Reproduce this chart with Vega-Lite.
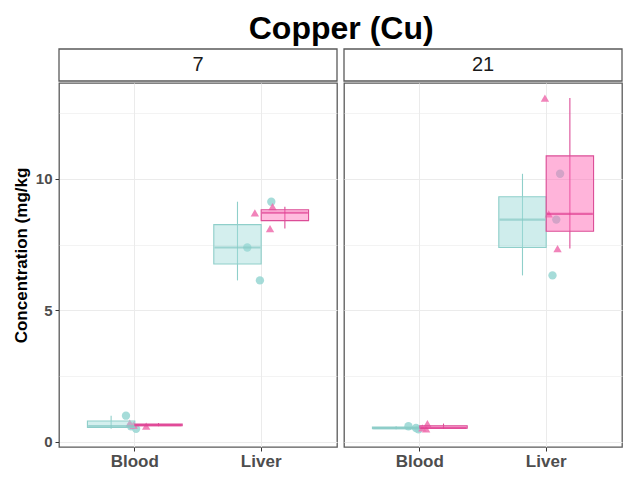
{
  "$schema": "https://vega.github.io/schema/vega-lite/v6.json",
  "padding": {"left": 11, "top": 13, "right": 8, "bottom": 5},
  "background": "white",
  "title": {"text": "Copper (Cu)", "font": "Liberation Sans", "fontSize": 32, "fontWeight": "bold", "color": "black", "anchor": "middle", "offset": 2, "dx": 24},
  "datasets": {
    "strips": [{"day": "7"}, {"day": "21"}],
    "boxes": [
      {"day": "7", "tissue": "Blood", "group": "g1", "lower": 0.50, "q1": 0.55, "median": 0.60, "q3": 0.80, "upper": 1.00},
      {"day": "7", "tissue": "Blood", "group": "g2", "lower": 0.60, "q1": 0.62, "median": 0.64, "q3": 0.68, "upper": 0.72},
      {"day": "7", "tissue": "Liver", "group": "g1", "lower": 6.14, "q1": 6.765, "median": 7.39, "q3": 8.26, "upper": 9.13},
      {"day": "7", "tissue": "Liver", "group": "g2", "lower": 8.11, "q1": 8.41, "median": 8.71, "q3": 8.825, "upper": 8.94},
      {"day": "21", "tissue": "Blood", "group": "g1", "lower": 0.48, "q1": 0.505, "median": 0.53, "q3": 0.565, "upper": 0.60},
      {"day": "21", "tissue": "Blood", "group": "g2", "lower": 0.50, "q1": 0.52, "median": 0.54, "q3": 0.62, "upper": 0.70},
      {"day": "21", "tissue": "Liver", "group": "g1", "lower": 6.33, "q1": 7.39, "median": 8.45, "q3": 9.32, "upper": 10.19},
      {"day": "21", "tissue": "Liver", "group": "g2", "lower": 7.35, "q1": 8.01, "median": 8.67, "q3": 10.87, "upper": 13.07}
    ],
    "points": [
      {"day": "7", "tissue": "Blood", "group": "g1", "value": 1.00, "jit": -0.07},
      {"day": "7", "tissue": "Blood", "group": "g1", "value": 0.60, "jit": -0.03},
      {"day": "7", "tissue": "Blood", "group": "g1", "value": 0.50, "jit": 0.01},
      {"day": "7", "tissue": "Blood", "group": "g2", "value": 0.72, "jit": -0.04},
      {"day": "7", "tissue": "Blood", "group": "g2", "value": 0.64, "jit": -0.01},
      {"day": "7", "tissue": "Blood", "group": "g2", "value": 0.60, "jit": 0.09},
      {"day": "7", "tissue": "Liver", "group": "g1", "value": 9.13, "jit": 0.08},
      {"day": "7", "tissue": "Liver", "group": "g1", "value": 7.39, "jit": -0.11},
      {"day": "7", "tissue": "Liver", "group": "g1", "value": 6.14, "jit": -0.01},
      {"day": "7", "tissue": "Liver", "group": "g2", "value": 8.71, "jit": -0.05},
      {"day": "7", "tissue": "Liver", "group": "g2", "value": 8.94, "jit": 0.09},
      {"day": "7", "tissue": "Liver", "group": "g2", "value": 8.11, "jit": 0.07},
      {"day": "21", "tissue": "Blood", "group": "g1", "value": 0.48, "jit": -0.01},
      {"day": "21", "tissue": "Blood", "group": "g1", "value": 0.53, "jit": -0.03},
      {"day": "21", "tissue": "Blood", "group": "g1", "value": 0.60, "jit": -0.09},
      {"day": "21", "tissue": "Blood", "group": "g2", "value": 0.50, "jit": 0.05},
      {"day": "21", "tissue": "Blood", "group": "g2", "value": 0.54, "jit": 0.02},
      {"day": "21", "tissue": "Blood", "group": "g2", "value": 0.70, "jit": 0.06},
      {"day": "21", "tissue": "Liver", "group": "g1", "value": 10.19, "jit": 0.11},
      {"day": "21", "tissue": "Liver", "group": "g1", "value": 8.45, "jit": 0.08},
      {"day": "21", "tissue": "Liver", "group": "g1", "value": 6.33, "jit": 0.05},
      {"day": "21", "tissue": "Liver", "group": "g2", "value": 13.07, "jit": -0.01},
      {"day": "21", "tissue": "Liver", "group": "g2", "value": 8.67, "jit": 0.02},
      {"day": "21", "tissue": "Liver", "group": "g2", "value": 7.35, "jit": 0.09}
    ]
  },
  "hconcat": [
    {
      "spacing": 0,
      "vconcat": [
        {
          "data": {"name": "strips"},
          "transform": [{"filter": "datum.day === '7'"}],
          "width": 278, "height": 32,
          "layer": [
            {"mark": {"type": "rect", "fill": "white", "stroke": "#5a5a5a", "strokeWidth": 1.3}, "encoding": {}},
            {"mark": {"type": "text", "font": "Liberation Sans", "fontSize": 20, "color": "#1a1a1a", "baseline": "middle"}, "encoding": {"text": {"field": "day", "type": "nominal"}}}
          ]
        },
        {
          "width": 278, "height": 364,
          "encoding": {
            "x": {"field": "tissue", "type": "nominal", "scale": {"domain": ["Blood", "Liver"], "paddingInner": 0, "paddingOuter": 0.1},
              "axis": {"title": null, "labelAngle": 0, "bandPosition": 0.5, "labelFontSize": 17, "labelPadding": 2}}
          },
          "layer": [
            {
              "data": {"name": "points"},
              "transform": [{"filter": "datum.day === '7'"}],
              "mark": {"type": "point", "filled": true, "opacity": 0.85, "size": 70},
              "encoding": {
                "xOffset": {"field": "jit", "type": "quantitative", "scale": {"domain": [-0.5, 0.5]}},
                "y": {"field": "value", "type": "quantitative", "scale": {"domain": [-0.19, 13.64], "nice": false, "zero": false},
                  "axis": {"values": [0, 2.5, 5, 7.5, 10, 12.5], "labelExpr": "datum.value % 5 === 0 ? datum.label : ''",
                    "tickOpacity": {"condition": {"test": "datum.value % 5 !== 0", "value": 0}, "value": 1},
                    "gridWidth": {"condition": {"test": "datum.value % 5 !== 0", "value": 0.6}, "value": 1.1},
                    "title": "Concentration (mg/kg", "titleFontSize": 17, "titleColor": "black", "titleY": 172, "labelFontSize": 15, "titlePadding": 5, "labelPadding": 3}},
                "color": {"field": "group", "type": "nominal", "scale": {"domain": ["g1", "g2"], "range": ["#97d6d2", "#ee6fae"]}, "legend": null},
                "shape": {"field": "group", "type": "nominal", "scale": {"domain": ["g1", "g2"], "range": ["circle", "triangle-up"]}, "legend": null}
              }
            },
            {
              "data": {"name": "boxes"},
              "transform": [{"filter": "datum.day === '7'"}],
              "encoding": {
                "xOffset": {"field": "group", "type": "nominal", "scale": {"domain": ["g1", "g2"], "paddingInner": 0, "paddingOuter": 0.3333}}
              },
              "layer": [
                {
                  "mark": {"type": "rule", "strokeWidth": 1.1},
                  "encoding": {
                    "y": {"field": "lower", "type": "quantitative"},
                    "y2": {"field": "upper"},
                    "stroke": {"field": "group", "type": "nominal", "scale": {"domain": ["g1", "g2"], "range": ["#8fcfca", "#dc4d97"]}, "legend": null}
                  }
                },
                {
                  "mark": {"type": "bar", "strokeWidth": 1.1, "fillOpacity": 0.45},
                  "encoding": {
                    "y": {"field": "q1", "type": "quantitative"},
                    "y2": {"field": "q3"},
                    "fill": {"field": "group", "type": "nominal", "scale": {"domain": ["g1", "g2"], "range": ["#9fdcda", "#ff6ab5"]}, "legend": null},
                    "stroke": {"field": "group", "type": "nominal"}
                  }
                },
                {
                  "mark": {"type": "tick", "thickness": 2.2, "size": 46, "orient": "horizontal"},
                  "encoding": {
                    "y": {"field": "median", "type": "quantitative"},
                    "color": {"field": "group", "type": "nominal", "scale": {"domain": ["g1", "g2"], "range": ["#86c9c4", "#df3d92"]}}
                  }
                }
              ]
            }
          ],
          "resolve": {"scale": {"xOffset": "independent", "color": "independent"}}
        }
      ]
    },
    {
      "spacing": 0,
      "vconcat": [
        {
          "data": {"name": "strips"},
          "transform": [{"filter": "datum.day === '21'"}],
          "width": 278, "height": 32,
          "layer": [
            {"mark": {"type": "rect", "fill": "white", "stroke": "#5a5a5a", "strokeWidth": 1.3}, "encoding": {}},
            {"mark": {"type": "text", "font": "Liberation Sans", "fontSize": 20, "color": "#1a1a1a", "baseline": "middle"}, "encoding": {"text": {"field": "day", "type": "nominal"}}}
          ]
        },
        {
          "width": 278, "height": 364,
          "encoding": {
            "x": {"field": "tissue", "type": "nominal", "scale": {"domain": ["Blood", "Liver"], "paddingInner": 0, "paddingOuter": 0.1},
              "axis": {"title": null, "labelAngle": 0, "bandPosition": 0.5, "labelFontSize": 17, "labelPadding": 2}}
          },
          "layer": [
            {
              "data": {"name": "points"},
              "transform": [{"filter": "datum.day === '21'"}],
              "mark": {"type": "point", "filled": true, "opacity": 0.85, "size": 70},
              "encoding": {
                "xOffset": {"field": "jit", "type": "quantitative", "scale": {"domain": [-0.5, 0.5]}},
                "y": {"field": "value", "type": "quantitative", "scale": {"domain": [-0.19, 13.64], "nice": false, "zero": false},
                  "axis": {"values": [0, 2.5, 5, 7.5, 10, 12.5], "labels": false, "ticks": false, "title": null,
                    "gridWidth": {"condition": {"test": "datum.value % 5 !== 0", "value": 0.6}, "value": 1.1}}},
                "color": {"field": "group", "type": "nominal", "scale": {"domain": ["g1", "g2"], "range": ["#97d6d2", "#ee6fae"]}, "legend": null},
                "shape": {"field": "group", "type": "nominal", "scale": {"domain": ["g1", "g2"], "range": ["circle", "triangle-up"]}, "legend": null}
              }
            },
            {
              "data": {"name": "boxes"},
              "transform": [{"filter": "datum.day === '21'"}],
              "encoding": {
                "xOffset": {"field": "group", "type": "nominal", "scale": {"domain": ["g1", "g2"], "paddingInner": 0, "paddingOuter": 0.3333}}
              },
              "layer": [
                {
                  "mark": {"type": "rule", "strokeWidth": 1.1},
                  "encoding": {
                    "y": {"field": "lower", "type": "quantitative"},
                    "y2": {"field": "upper"},
                    "stroke": {"field": "group", "type": "nominal", "scale": {"domain": ["g1", "g2"], "range": ["#8fcfca", "#dc4d97"]}, "legend": null}
                  }
                },
                {
                  "mark": {"type": "bar", "strokeWidth": 1.1, "fillOpacity": 0.5},
                  "encoding": {
                    "y": {"field": "q1", "type": "quantitative"},
                    "y2": {"field": "q3"},
                    "fill": {"field": "group", "type": "nominal", "scale": {"domain": ["g1", "g2"], "range": ["#9fdcda", "#ff6ab5"]}, "legend": null},
                    "stroke": {"field": "group", "type": "nominal"}
                  }
                },
                {
                  "mark": {"type": "tick", "thickness": 2.2, "size": 46, "orient": "horizontal"},
                  "encoding": {
                    "y": {"field": "median", "type": "quantitative"},
                    "color": {"field": "group", "type": "nominal", "scale": {"domain": ["g1", "g2"], "range": ["#86c9c4", "#df3d92"]}}
                  }
                }
              ]
            }
          ],
          "resolve": {"scale": {"xOffset": "independent", "color": "independent"}}
        }
      ]
    }
  ],
  "spacing": 5,
  "config": {
    "view": {"stroke": "#5a5a5a", "strokeWidth": 1.3, "fill": "white"},
    "axis": {"domain": false, "grid": true, "gridColor": "#ebebeb", "tickColor": "#333333", "tickSize": 4, "labelFont": "Liberation Sans", "labelFontWeight": "bold", "labelColor": "#4d4d4d", "titleFont": "Liberation Sans", "titleFontWeight": "bold"},
    "legend": {"disable": true}
  }
}
